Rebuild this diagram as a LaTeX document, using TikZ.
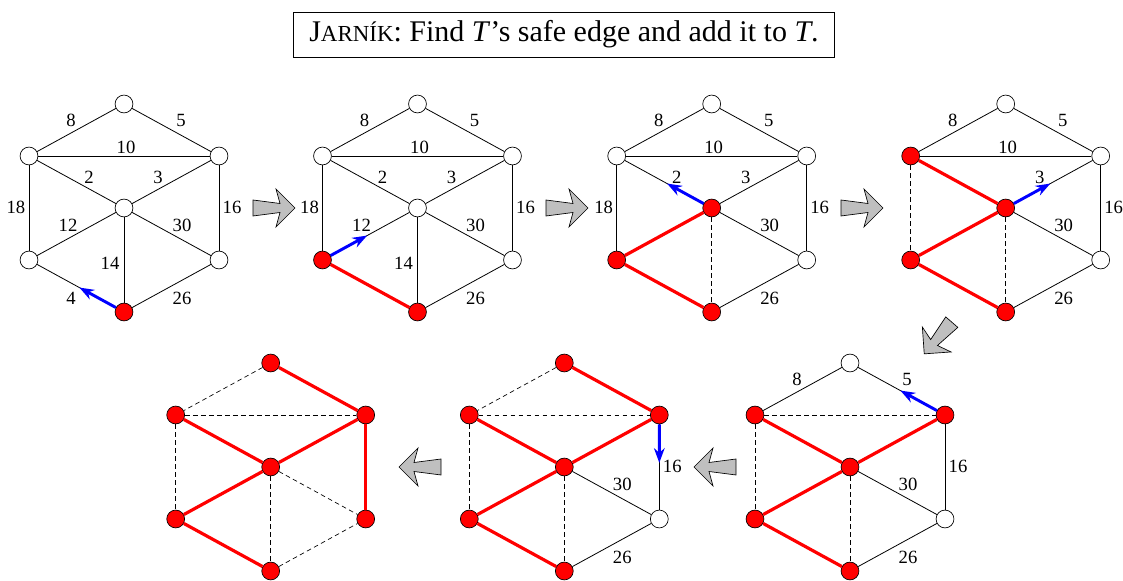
\documentclass[tikz,border=0pt]{standalone}
\usepackage{fontspec}
\setmainfont{Liberation Serif}
\usetikzlibrary{arrows.meta,calc}

\tikzset{
  vtx/.style={draw, fill=white, circle, inner sep=0pt, minimum size=13.4pt, line width=0.5pt},
  vtxT/.style={vtx, fill=red},
  edg/.style={line width=0.6pt},
  tree/.style={red, line width=2.4pt},
  gone/.style={line width=0.5pt, dash pattern=on 3.5pt off 2.5pt},
  safe/.style={blue, line width=2.2pt, -{Stealth[length=11pt,width=8pt]}},
  wt/.style={font=\fontsize{14}{16}\selectfont, inner sep=0pt},
  fatarrow/.pic={\draw[fill=gray!50, line width=0.5pt] (-21,8) -- (6,4.5) -- (2,19) -- (21,0) -- (2,-19) -- (6,-4.5) -- (-21,-8) -- cycle;}
}

% spots of the seven vertices of one hexagon
\newcommand{\hexspots}{%
  \foreach \n/\x/\y in {t/0/104, ur/95/52, lr/95/-52, b/0/-104, ll/-95/-52, ul/-95/52, c/0/0}
    \coordinate (p\n) at (\x,\y);}

\begin{document}
\begin{tikzpicture}[x=0.75pt, y=0.75pt]
  \useasboundingbox (0,0) rectangle (1123,581);

  % Title
  \node[draw, line width=0.6pt, minimum width=406pt, minimum height=33.75pt] (title) at (564,546.5)
    {\fontsize{22.5}{25}\selectfont J{\fontsize{17.2}{19}\selectfont ARNÍK}: Find \textit{T}’s safe edge and add it to \textit{T}.};

  % Step 1
  \begin{scope}[shift={(124,373)}]
    \hexspots
    \foreach \n in {t,ul,ur,c,ll,lr} \node[vtx] (A\n) at (p\n) {};
    \node[vtxT] (Ab) at (pb) {};
    \foreach \u/\v in {t/ul,t/ur,ul/ur,ul/c,c/ur,ul/ll,ll/c,c/lr,ur/lr,c/b,ll/b,b/lr} \draw[edg] (A\u) -- (A\v);
    \coordinate (Ah) at ($(pb)!0.47!(pll)$);
    \draw[safe] (Ab) -- (Ah);
    \foreach \w/\x/\y in {8/-53/88, 5/57/88, 10/2/61, 2/-35/31, 3/34/31, 18/-108/1, 12/-56/-17, 30/58/-17, 16/108/1, 14/-14/-55, 4/-53/-90, 26/58/-90}
      \node[wt] (Aw\w) at (\x,\y) {\w};
  \end{scope}

  % Step 2
  \begin{scope}[shift={(417.5,373)}]
    \hexspots
    \foreach \n in {t,ul,ur,c,lr} \node[vtx] (B\n) at (p\n) {};
    \foreach \n in {ll,b} \node[vtxT] (B\n) at (p\n) {};
    \foreach \u/\v in {t/ul,t/ur,ul/ur,ul/c,c/ur,ul/ll,ll/c,c/lr,ur/lr,c/b,b/lr} \draw[edg] (B\u) -- (B\v);
    \draw[tree] (Bll) -- (Bb);
    \coordinate (Bh) at ($(pll)!0.47!(pc)$);
    \draw[safe] (Bll) -- (Bh);
    \foreach \w/\x/\y in {8/-53/88, 5/57/88, 10/2/61, 2/-35/31, 3/34/31, 18/-108/1, 12/-56/-17, 30/58/-17, 16/108/1, 14/-14/-55, 26/58/-90}
      \node[wt] (Bw\w) at (\x,\y) {\w};
  \end{scope}

  % Step 3
  \begin{scope}[shift={(711.7,373)}]
    \hexspots
    \foreach \n in {t,ul,ur,lr} \node[vtx] (C\n) at (p\n) {};
    \foreach \n in {c,ll,b} \node[vtxT] (C\n) at (p\n) {};
    \foreach \u/\v in {t/ul,t/ur,ul/ur,ul/c,c/ur,ul/ll,c/lr,ur/lr,b/lr} \draw[edg] (C\u) -- (C\v);
    \draw[gone] (Cc) -- (Cb);
    \foreach \u/\v in {ll/b,ll/c} \draw[tree] (C\u) -- (C\v);
    \coordinate (Ch) at ($(pc)!0.47!(pul)$);
    \draw[safe] (Cc) -- (Ch);
    \foreach \w/\x/\y in {8/-53/88, 5/57/88, 10/2/61, 2/-35/31, 3/34/31, 18/-108/1, 30/58/-17, 16/108/1, 26/58/-90}
      \node[wt] (Cw\w) at (\x,\y) {\w};
  \end{scope}

  % Step 4
  \begin{scope}[shift={(1005.7,373)}]
    \hexspots
    \foreach \n in {t,ur,lr} \node[vtx] (D\n) at (p\n) {};
    \foreach \n in {ul,c,ll,b} \node[vtxT] (D\n) at (p\n) {};
    \foreach \u/\v in {t/ul,t/ur,ul/ur,c/ur,c/lr,ur/lr,b/lr} \draw[edg] (D\u) -- (D\v);
    \foreach \u/\v in {c/b,ul/ll} \draw[gone] (D\u) -- (D\v);
    \foreach \u/\v in {ll/b,ll/c,c/ul} \draw[tree] (D\u) -- (D\v);
    \coordinate (Dh) at ($(pc)!0.47!(pur)$);
    \draw[safe] (Dc) -- (Dh);
    \foreach \w/\x/\y in {8/-53/88, 5/57/88, 10/2/61, 3/34/31, 30/58/-17, 16/108/1, 26/58/-90}
      \node[wt] (Dw\w) at (\x,\y) {\w};
  \end{scope}

  % Step 5
  \begin{scope}[shift={(850,114)}]
    \hexspots
    \foreach \n in {t,lr} \node[vtx] (E\n) at (p\n) {};
    \foreach \n in {ul,ur,c,ll,b} \node[vtxT] (E\n) at (p\n) {};
    \foreach \u/\v in {t/ul,t/ur,c/lr,ur/lr,b/lr} \draw[edg] (E\u) -- (E\v);
    \foreach \u/\v in {c/b,ul/ll,ul/ur} \draw[gone] (E\u) -- (E\v);
    \foreach \u/\v in {ll/b,ll/c,c/ul,c/ur} \draw[tree] (E\u) -- (E\v);
    \coordinate (Eh) at ($(pur)!0.47!(pt)$);
    \draw[safe] (Eur) -- (Eh);
    \foreach \w/\x/\y in {8/-53/88, 5/57/88, 30/58/-17, 16/108/1, 26/58/-90}
      \node[wt] (Ew\w) at (\x,\y) {\w};
  \end{scope}

  % Step 6
  \begin{scope}[shift={(564.3,114)}]
    \hexspots
    \node[vtx] (Flr) at (plr) {};
    \foreach \n in {t,ul,ur,c,ll,b} \node[vtxT] (F\n) at (p\n) {};
    \foreach \u/\v in {c/lr,ur/lr,b/lr} \draw[edg] (F\u) -- (F\v);
    \foreach \u/\v in {c/b,ul/ll,ul/ur,t/ul} \draw[gone] (F\u) -- (F\v);
    \foreach \u/\v in {ll/b,ll/c,c/ul,c/ur,t/ur} \draw[tree] (F\u) -- (F\v);
    \coordinate (Fh) at ($(pur)!0.46!(plr)$);
    \draw[safe] (Fur) -- (Fh);
    \foreach \w/\x/\y in {30/58/-17, 16/108/1, 26/58/-90}
      \node[wt] (Fw\w) at (\x,\y) {\w};
  \end{scope}

  % Step 7
  \begin{scope}[shift={(270.7,114)}]
    \hexspots
    \foreach \n in {t,ul,ur,c,ll,lr,b} \node[vtxT] (G\n) at (p\n) {};
    \foreach \u/\v in {c/b,ul/ll,ul/ur,t/ul,c/lr,b/lr} \draw[gone] (G\u) -- (G\v);
    \foreach \u/\v in {ll/b,ll/c,c/ul,c/ur,t/ur,ur/lr} \draw[tree] (G\u) -- (G\v);
  \end{scope}

  % Big arrows between the steps
  \pic at (274,373) {fatarrow};
  \pic at (567,373) {fatarrow};
  \pic at (862,373) {fatarrow};
  \pic[rotate=229] at (938,243) {fatarrow};
  \pic[rotate=180] at (715,114) {fatarrow};
  \pic[rotate=180] at (420,114) {fatarrow};
\end{tikzpicture}
\end{document}
